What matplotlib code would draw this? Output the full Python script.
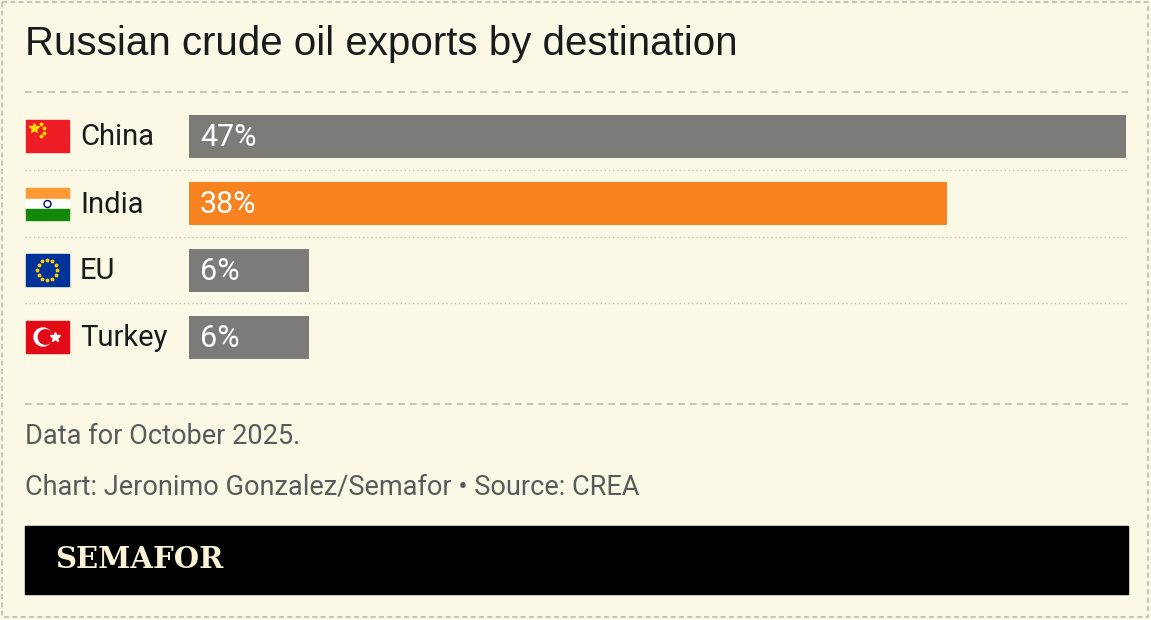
import matplotlib
matplotlib.use("Agg")
import matplotlib.pyplot as plt
from matplotlib.patches import Rectangle, Circle
import numpy as np

countries = ["China", "India", "EU", "Turkey"]
shares = [47, 38, 6, 6]
labels = ["47%", "38%", "6%", "6%"]
colors = ["#7c7b78", "#f7821f", "#7c7b78", "#7c7b78"]

W, H = 1151, 620
BG = "#fbf8e6"
fig = plt.figure(figsize=(W/100, H/100), dpi=100, facecolor=BG)

d = fig.add_axes([0, 0, 1, 1])
d.set_xlim(0, W); d.set_ylim(H, 0); d.axis("off")
d.add_patch(Rectangle((2, 2), W-5, H-5, fill=False, ec="#bdbbb0", lw=1.2, ls=(0, (3, 2))))
d.text(25, 44, "Russian crude oil exports by destination", fontsize=29,
       family="Liberation Sans", color="#1a1a1a", va="center")
for y in (92, 404):
    d.plot([25, 1128], [y, y], color="#bdbbb0", lw=1.2, ls=(0, (4, 3)))
for y in (170, 237, 303):
    d.plot([25, 1128], [y, y], color="#c8c6bb", lw=1, ls=(0, (1, 2)))
d.text(25, 437, "Data for October 2025.", fontsize=19.5, color="#5a5a5a", family="Roboto", va="center")
d.text(25, 487, "Chart: Jeronimo Gonzalez/Semafor \u2022 Source: CREA", fontsize=19.5,
       color="#5a5a5a", family="Roboto", va="center")
d.add_patch(Rectangle((25, 526), 1103, 68, color="black"))
d.text(55, 560, "SEMAFOR", fontsize=21, family="DejaVu Serif", weight="bold",
       color="#fbf3d5", va="center")

fx, fw, fh = 26, 43, 32
rows_y = [136, 204, 270, 337]
for name, cy in zip(countries, rows_y):
    y0 = cy - fh/2
    if name == "China":
        d.add_patch(Rectangle((fx, y0), fw, fh, color="#ee1c25"))
        d.plot(fx+8, y0+8, marker="*", color="#ffde00", ms=7)
        for dx, dy in [(15, 4), (18, 8), (18, 13), (15, 16)]:
            d.plot(fx+dx, y0+dy, marker="*", color="#ffde00", ms=2.5)
    elif name == "India":
        d.add_patch(Rectangle((fx, y0), fw, fh/3, color="#ff9933"))
        d.add_patch(Rectangle((fx, y0+fh/3), fw, fh/3, color="white"))
        d.add_patch(Rectangle((fx, y0+2*fh/3), fw, fh/3, color="#138808"))
        d.add_patch(Circle((fx+fw/2, cy), 3.5, fill=False, ec="#000080", lw=1))
    elif name == "EU":
        d.add_patch(Rectangle((fx, y0), fw, fh, color="#003399"))
        for a in np.linspace(0, 2*np.pi, 13)[:-1]:
            d.plot(fx+fw/2+10*np.cos(a), cy+10*np.sin(a), marker="*", color="#ffcc00", ms=2.5)
    else:
        d.add_patch(Rectangle((fx, y0), fw, fh, color="#e30a17"))
        d.add_patch(Circle((fx+17, cy), 9, color="white"))
        d.add_patch(Circle((fx+19.5, cy), 7.2, color="#e30a17"))
        d.plot(fx+29, cy, marker="*", color="white", ms=7)
    d.text(80, cy + 1, name, fontsize=21, family="Roboto", color="#1a1a1a", va="center")

ax = fig.add_axes([189/W, 1-371/H, (1126-189)/W, 268/H])
ax.set_facecolor("none")
y = np.arange(len(countries))
ax.barh(y, shares, height=0.63, color=colors)
for yi, v, lab in zip(y, shares, labels):
    ax.text(0.55, yi + 0.02, lab, color="white", fontsize=22, family="Roboto", va="center")
ax.set_xlim(0, max(shares)); ax.set_ylim(3.5, -0.5)
ax.axis("off")

fig.savefig("out.png", dpi=100, facecolor=BG)
